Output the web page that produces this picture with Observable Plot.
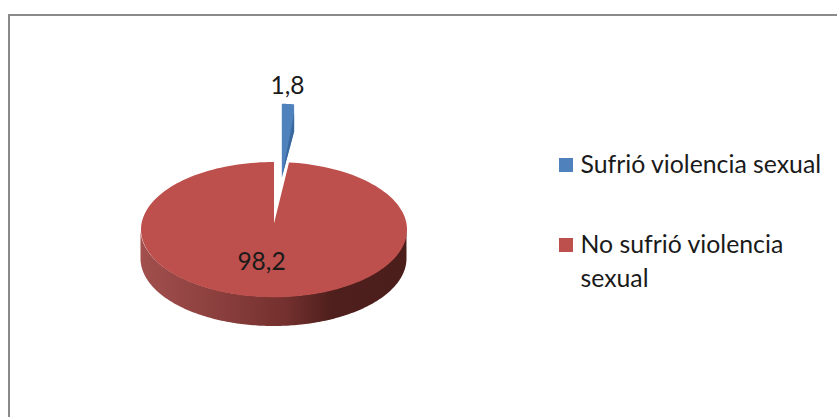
<!DOCTYPE html>
<html>
<head>
<meta charset="utf-8">
<script src="https://cdn.jsdelivr.net/npm/d3@7"></script>
<script src="https://cdn.jsdelivr.net/npm/@observablehq/plot@0.6"></script>
<style>
  html, body { margin: 0; padding: 0; background: #fff; overflow: hidden; }
  #frame { position: absolute; left: 8px; top: 14px; right: -20px; bottom: -20px;
           border-left: 2.5px solid #8a8a8a; border-top: 2.5px solid #8a8a8a; }
  #chart { position: absolute; left: 0; top: 0; }
  #chart svg { background: transparent; display: block; }
</style>
</head>
<body>
<div id="frame"></div>
<div id="chart"></div>
<script>
const categories = ["Sufrió violencia sexual", "No sufrió violencia sexual"];
const legendLines = ["Sufrió violencia sexual", "No sufrió violencia\nsexual"];
const shares = [1.8, 98.2];
const topColors = ["#4f81bd", "#bd4f4c"];
const cutColor = "#39689f";

const W = 837, H = 417;
const xRange = [140.5, 406.5], yRange = [296.7, 161.5];
const px = d3.scaleLinear([-1, 1], xRange);
const py = d3.scaleLinear([-1, 1], yRange);
const font = "Lato, Carlito, Calibri, sans-serif";

const wedge = shares[0] / 100 * 2 * Math.PI;
const steps = 180;

// Large slice: top face, running clockwise from the end of the small slice
const redApexY = 0.09;
const redFace = [{x: 0, y: redApexY}];
for (let i = 0; i <= steps; i++) {
  const t = wedge + (2 * Math.PI - wedge) * i / steps;
  redFace.push({x: Math.sin(t), y: Math.cos(t)});
}
redFace.push({x: 0, y: redApexY});

// Rim of the large slice: lower half of the ellipse pushed down by the depth
const depth = py.invert(py(0) - 29.3) - 0; // same length in y units
const rim = [];
for (let i = 0; i <= steps; i++) {
  const a = Math.PI + Math.PI * i / steps;
  const x = Math.cos(a), y = Math.sin(a);
  rim.push({x, y1: y, y2: y - Math.abs(depth)});
}

// Small slice, pulled out of the pie
const apex = {x: px.invert(281.3), y: py.invert(177)};
const rx = 0.82, ry = 1.09;
const blueFace = [apex];
for (let i = 0; i <= 12; i++) {
  const t = wedge * i / 12;
  blueFace.push({x: apex.x + rx * Math.sin(t), y: apex.y + ry * Math.cos(t)});
}
const edge = {x: apex.x + rx * Math.sin(wedge), y: apex.y + ry * Math.cos(wedge)};
const blueOutline = [...blueFace, {x: edge.x, y: py.invert(131)}, apex];
const blueCut = [apex, {x: edge.x, y: py.invert(113)}, {x: edge.x, y: py.invert(131)}, apex];

const fmt = v => String(v).replace(".", ",");
const pieLabels = [
  {x: px.invert(287), y: py.invert(86), text: fmt(shares[0])},
  {x: px.invert(261), y: py.invert(262), text: fmt(shares[1])}
];
const legendRows = categories.map((c, i) => ({
  category: c,
  line: legendLines[i],
  color: topColors[i],
  x1: px.invert(559), x2: px.invert(573),
  y1: py.invert([158, 238][i]), y2: py.invert([172, 252][i]),
  tx: px.invert(580), ty: py.invert([148.5, 228][i])
}));

function rimGradient() {
  const defs = d3.create("svg:defs");
  const g = defs.append("linearGradient").attr("id", "rimGrad");
  [[0, "#a24f4d"], [0.3, "#8a3f3d"], [0.55, "#73302e"], [0.72, "#4e1f1c"], [1, "#4c1e1b"]]
    .forEach(([o, c]) => g.append("stop").attr("offset", o).attr("stop-color", c));
  return defs.node();
}

const chart = Plot.plot({
  width: W, height: H, margin: 0,
  style: {background: "transparent", fontFamily: font},
  x: {domain: [-1, 1], range: xRange, axis: null},
  y: {domain: [-1, 1], range: yRange, axis: null},
  marks: [
    rimGradient,
    Plot.areaY(rim, {x: "x", y1: "y1", y2: "y2", fill: "url(#rimGrad)", stroke: "none"}),
    Plot.line(redFace, {x: "x", y: "y", fill: topColors[1], stroke: "none", curve: "linear"}),
    Plot.line(blueOutline, {x: "x", y: "y", fill: topColors[0], stroke: "none", curve: "linear"}),
    Plot.line(blueCut, {x: "x", y: "y", fill: cutColor, stroke: "none", curve: "linear"}),
    Plot.text(pieLabels, {x: "x", y: "y", text: "text", fontSize: 24.5, fill: "#1a1a1a", fontFamily: font}),
    Plot.rect(legendRows, {x1: "x1", x2: "x2", y1: "y1", y2: "y2", fill: "color"}),
    Plot.text(legendRows, {x: "tx", y: "ty", text: "line", textAnchor: "start", lineAnchor: "top",
      lineHeight: 1.37, fontSize: 24.8, fill: "#1a1a1a", fontFamily: font})
  ]
});
document.getElementById("chart").appendChild(chart);
</script>
</body>
</html>
